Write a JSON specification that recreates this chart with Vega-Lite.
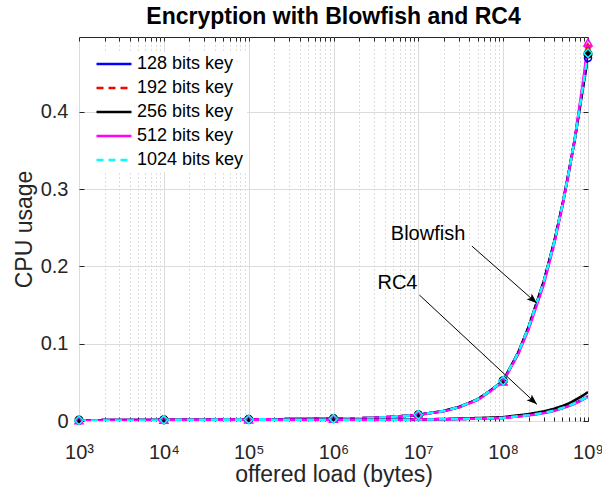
{
  "$schema": "https://vega.github.io/schema/vega-lite/v6.json",
  "width": 509,
  "height": 384,
  "autosize": "none",
  "padding": {"left": 79, "top": 37, "right": 14, "bottom": 71},
  "background": "white",
  "title": {"text": "Encryption with Blowfish and RC4", "font": "Liberation Sans", "fontSize": 23, "fontWeight": "bold", "color": "#000000", "anchor": "middle", "baseline": "alphabetic", "offset": -11},
  "config": {"view": {"stroke": "#262626", "strokeWidth": 1}, "font": "Liberation Sans"},
  "datasets": {
    "curves": [
      {"alg": "Blowfish", "key": "128 bits key", "x": 1e3, "y": 0.001},
      {"alg": "Blowfish", "key": "128 bits key", "x": 1e4, "y": 0.0015},
      {"alg": "Blowfish", "key": "128 bits key", "x": 1e5, "y": 0.002},
      {"alg": "Blowfish", "key": "128 bits key", "x": 1e6, "y": 0.003},
      {"alg": "Blowfish", "key": "128 bits key", "x": 3e6, "y": 0.004},
      {"alg": "Blowfish", "key": "128 bits key", "x": 5e6, "y": 0.0055},
      {"alg": "Blowfish", "key": "128 bits key", "x": 1e7, "y": 0.008},
      {"alg": "Blowfish", "key": "128 bits key", "x": 2e7, "y": 0.013},
      {"alg": "Blowfish", "key": "128 bits key", "x": 3e7, "y": 0.018},
      {"alg": "Blowfish", "key": "128 bits key", "x": 5e7, "y": 0.028},
      {"alg": "Blowfish", "key": "128 bits key", "x": 7e7, "y": 0.039},
      {"alg": "Blowfish", "key": "128 bits key", "x": 1e8, "y": 0.052},
      {"alg": "Blowfish", "key": "128 bits key", "x": 1.5e8, "y": 0.088},
      {"alg": "Blowfish", "key": "128 bits key", "x": 2e8, "y": 0.122},
      {"alg": "Blowfish", "key": "128 bits key", "x": 3e8, "y": 0.18},
      {"alg": "Blowfish", "key": "128 bits key", "x": 4e8, "y": 0.232},
      {"alg": "Blowfish", "key": "128 bits key", "x": 5e8, "y": 0.28},
      {"alg": "Blowfish", "key": "128 bits key", "x": 6e8, "y": 0.325},
      {"alg": "Blowfish", "key": "128 bits key", "x": 7e8, "y": 0.365},
      {"alg": "Blowfish", "key": "128 bits key", "x": 8e8, "y": 0.405},
      {"alg": "Blowfish", "key": "128 bits key", "x": 9e8, "y": 0.44},
      {"alg": "Blowfish", "key": "128 bits key", "x": 1e9, "y": 0.47},
      {"alg": "Blowfish", "key": "192 bits key", "x": 1e3, "y": 0.001},
      {"alg": "Blowfish", "key": "192 bits key", "x": 1e4, "y": 0.0015},
      {"alg": "Blowfish", "key": "192 bits key", "x": 1e5, "y": 0.002},
      {"alg": "Blowfish", "key": "192 bits key", "x": 1e6, "y": 0.003},
      {"alg": "Blowfish", "key": "192 bits key", "x": 3e6, "y": 0.004},
      {"alg": "Blowfish", "key": "192 bits key", "x": 5e6, "y": 0.0055},
      {"alg": "Blowfish", "key": "192 bits key", "x": 1e7, "y": 0.008},
      {"alg": "Blowfish", "key": "192 bits key", "x": 2e7, "y": 0.013},
      {"alg": "Blowfish", "key": "192 bits key", "x": 3e7, "y": 0.018},
      {"alg": "Blowfish", "key": "192 bits key", "x": 5e7, "y": 0.028},
      {"alg": "Blowfish", "key": "192 bits key", "x": 7e7, "y": 0.039},
      {"alg": "Blowfish", "key": "192 bits key", "x": 1e8, "y": 0.052},
      {"alg": "Blowfish", "key": "192 bits key", "x": 1.5e8, "y": 0.088},
      {"alg": "Blowfish", "key": "192 bits key", "x": 2e8, "y": 0.122},
      {"alg": "Blowfish", "key": "192 bits key", "x": 3e8, "y": 0.18},
      {"alg": "Blowfish", "key": "192 bits key", "x": 4e8, "y": 0.232},
      {"alg": "Blowfish", "key": "192 bits key", "x": 5e8, "y": 0.28},
      {"alg": "Blowfish", "key": "192 bits key", "x": 6e8, "y": 0.325},
      {"alg": "Blowfish", "key": "192 bits key", "x": 7e8, "y": 0.366},
      {"alg": "Blowfish", "key": "192 bits key", "x": 8e8, "y": 0.408},
      {"alg": "Blowfish", "key": "192 bits key", "x": 9e8, "y": 0.446},
      {"alg": "Blowfish", "key": "192 bits key", "x": 1e9, "y": 0.484},
      {"alg": "Blowfish", "key": "256 bits key", "x": 1e3, "y": 0.001},
      {"alg": "Blowfish", "key": "256 bits key", "x": 1e4, "y": 0.0015},
      {"alg": "Blowfish", "key": "256 bits key", "x": 1e5, "y": 0.002},
      {"alg": "Blowfish", "key": "256 bits key", "x": 1e6, "y": 0.003},
      {"alg": "Blowfish", "key": "256 bits key", "x": 3e6, "y": 0.004},
      {"alg": "Blowfish", "key": "256 bits key", "x": 5e6, "y": 0.0055},
      {"alg": "Blowfish", "key": "256 bits key", "x": 1e7, "y": 0.008},
      {"alg": "Blowfish", "key": "256 bits key", "x": 2e7, "y": 0.013},
      {"alg": "Blowfish", "key": "256 bits key", "x": 3e7, "y": 0.018},
      {"alg": "Blowfish", "key": "256 bits key", "x": 5e7, "y": 0.028},
      {"alg": "Blowfish", "key": "256 bits key", "x": 7e7, "y": 0.039},
      {"alg": "Blowfish", "key": "256 bits key", "x": 1e8, "y": 0.052},
      {"alg": "Blowfish", "key": "256 bits key", "x": 1.5e8, "y": 0.088},
      {"alg": "Blowfish", "key": "256 bits key", "x": 2e8, "y": 0.122},
      {"alg": "Blowfish", "key": "256 bits key", "x": 3e8, "y": 0.18},
      {"alg": "Blowfish", "key": "256 bits key", "x": 4e8, "y": 0.232},
      {"alg": "Blowfish", "key": "256 bits key", "x": 5e8, "y": 0.28},
      {"alg": "Blowfish", "key": "256 bits key", "x": 6e8, "y": 0.325},
      {"alg": "Blowfish", "key": "256 bits key", "x": 7e8, "y": 0.365},
      {"alg": "Blowfish", "key": "256 bits key", "x": 8e8, "y": 0.406},
      {"alg": "Blowfish", "key": "256 bits key", "x": 9e8, "y": 0.442},
      {"alg": "Blowfish", "key": "256 bits key", "x": 1e9, "y": 0.475},
      {"alg": "Blowfish", "key": "512 bits key", "x": 1e3, "y": 0.001},
      {"alg": "Blowfish", "key": "512 bits key", "x": 1e4, "y": 0.0015},
      {"alg": "Blowfish", "key": "512 bits key", "x": 1e5, "y": 0.002},
      {"alg": "Blowfish", "key": "512 bits key", "x": 1e6, "y": 0.003},
      {"alg": "Blowfish", "key": "512 bits key", "x": 3e6, "y": 0.004},
      {"alg": "Blowfish", "key": "512 bits key", "x": 5e6, "y": 0.0055},
      {"alg": "Blowfish", "key": "512 bits key", "x": 1e7, "y": 0.008},
      {"alg": "Blowfish", "key": "512 bits key", "x": 2e7, "y": 0.0125},
      {"alg": "Blowfish", "key": "512 bits key", "x": 3e7, "y": 0.0175},
      {"alg": "Blowfish", "key": "512 bits key", "x": 5e7, "y": 0.027},
      {"alg": "Blowfish", "key": "512 bits key", "x": 7e7, "y": 0.038},
      {"alg": "Blowfish", "key": "512 bits key", "x": 1e8, "y": 0.051},
      {"alg": "Blowfish", "key": "512 bits key", "x": 1.5e8, "y": 0.086},
      {"alg": "Blowfish", "key": "512 bits key", "x": 2e8, "y": 0.119},
      {"alg": "Blowfish", "key": "512 bits key", "x": 3e8, "y": 0.176},
      {"alg": "Blowfish", "key": "512 bits key", "x": 4e8, "y": 0.229},
      {"alg": "Blowfish", "key": "512 bits key", "x": 5e8, "y": 0.278},
      {"alg": "Blowfish", "key": "512 bits key", "x": 6e8, "y": 0.324},
      {"alg": "Blowfish", "key": "512 bits key", "x": 7e8, "y": 0.366},
      {"alg": "Blowfish", "key": "512 bits key", "x": 8e8, "y": 0.41},
      {"alg": "Blowfish", "key": "512 bits key", "x": 9e8, "y": 0.45},
      {"alg": "Blowfish", "key": "512 bits key", "x": 1e9, "y": 0.49},
      {"alg": "Blowfish", "key": "1024 bits key", "x": 1e3, "y": 0.001},
      {"alg": "Blowfish", "key": "1024 bits key", "x": 1e4, "y": 0.0015},
      {"alg": "Blowfish", "key": "1024 bits key", "x": 1e5, "y": 0.002},
      {"alg": "Blowfish", "key": "1024 bits key", "x": 1e6, "y": 0.003},
      {"alg": "Blowfish", "key": "1024 bits key", "x": 3e6, "y": 0.004},
      {"alg": "Blowfish", "key": "1024 bits key", "x": 5e6, "y": 0.0055},
      {"alg": "Blowfish", "key": "1024 bits key", "x": 1e7, "y": 0.008},
      {"alg": "Blowfish", "key": "1024 bits key", "x": 2e7, "y": 0.013},
      {"alg": "Blowfish", "key": "1024 bits key", "x": 3e7, "y": 0.018},
      {"alg": "Blowfish", "key": "1024 bits key", "x": 5e7, "y": 0.028},
      {"alg": "Blowfish", "key": "1024 bits key", "x": 7e7, "y": 0.039},
      {"alg": "Blowfish", "key": "1024 bits key", "x": 1e8, "y": 0.052},
      {"alg": "Blowfish", "key": "1024 bits key", "x": 1.5e8, "y": 0.088},
      {"alg": "Blowfish", "key": "1024 bits key", "x": 2e8, "y": 0.122},
      {"alg": "Blowfish", "key": "1024 bits key", "x": 3e8, "y": 0.18},
      {"alg": "Blowfish", "key": "1024 bits key", "x": 4e8, "y": 0.232},
      {"alg": "Blowfish", "key": "1024 bits key", "x": 5e8, "y": 0.28},
      {"alg": "Blowfish", "key": "1024 bits key", "x": 6e8, "y": 0.325},
      {"alg": "Blowfish", "key": "1024 bits key", "x": 7e8, "y": 0.365},
      {"alg": "Blowfish", "key": "1024 bits key", "x": 8e8, "y": 0.406},
      {"alg": "Blowfish", "key": "1024 bits key", "x": 9e8, "y": 0.443},
      {"alg": "Blowfish", "key": "1024 bits key", "x": 1e9, "y": 0.476},
      {"alg": "RC4", "key": "128 bits key", "x": 1e3, "y": 0.0005},
      {"alg": "RC4", "key": "128 bits key", "x": 1e4, "y": 0.0008},
      {"alg": "RC4", "key": "128 bits key", "x": 1e5, "y": 0.001},
      {"alg": "RC4", "key": "128 bits key", "x": 1e6, "y": 0.0015},
      {"alg": "RC4", "key": "128 bits key", "x": 1e7, "y": 0.0018},
      {"alg": "RC4", "key": "128 bits key", "x": 3e7, "y": 0.0025},
      {"alg": "RC4", "key": "128 bits key", "x": 1e8, "y": 0.004},
      {"alg": "RC4", "key": "128 bits key", "x": 2e8, "y": 0.0075},
      {"alg": "RC4", "key": "128 bits key", "x": 3e8, "y": 0.0105},
      {"alg": "RC4", "key": "128 bits key", "x": 4e8, "y": 0.0135},
      {"alg": "RC4", "key": "128 bits key", "x": 5e8, "y": 0.017},
      {"alg": "RC4", "key": "128 bits key", "x": 6e8, "y": 0.0198},
      {"alg": "RC4", "key": "128 bits key", "x": 7e8, "y": 0.023},
      {"alg": "RC4", "key": "128 bits key", "x": 8e8, "y": 0.026},
      {"alg": "RC4", "key": "128 bits key", "x": 9e8, "y": 0.029},
      {"alg": "RC4", "key": "128 bits key", "x": 1e9, "y": 0.032},
      {"alg": "RC4", "key": "192 bits key", "x": 1e3, "y": 0.0005},
      {"alg": "RC4", "key": "192 bits key", "x": 1e4, "y": 0.0008},
      {"alg": "RC4", "key": "192 bits key", "x": 1e5, "y": 0.001},
      {"alg": "RC4", "key": "192 bits key", "x": 1e6, "y": 0.0015},
      {"alg": "RC4", "key": "192 bits key", "x": 1e7, "y": 0.0018},
      {"alg": "RC4", "key": "192 bits key", "x": 3e7, "y": 0.0025},
      {"alg": "RC4", "key": "192 bits key", "x": 1e8, "y": 0.004},
      {"alg": "RC4", "key": "192 bits key", "x": 2e8, "y": 0.0075},
      {"alg": "RC4", "key": "192 bits key", "x": 3e8, "y": 0.0105},
      {"alg": "RC4", "key": "192 bits key", "x": 4e8, "y": 0.0135},
      {"alg": "RC4", "key": "192 bits key", "x": 5e8, "y": 0.017},
      {"alg": "RC4", "key": "192 bits key", "x": 6e8, "y": 0.0198},
      {"alg": "RC4", "key": "192 bits key", "x": 7e8, "y": 0.023},
      {"alg": "RC4", "key": "192 bits key", "x": 8e8, "y": 0.026},
      {"alg": "RC4", "key": "192 bits key", "x": 9e8, "y": 0.029},
      {"alg": "RC4", "key": "192 bits key", "x": 1e9, "y": 0.032},
      {"alg": "RC4", "key": "256 bits key", "x": 1e3, "y": 0.0005},
      {"alg": "RC4", "key": "256 bits key", "x": 1e4, "y": 0.0008},
      {"alg": "RC4", "key": "256 bits key", "x": 1e5, "y": 0.001},
      {"alg": "RC4", "key": "256 bits key", "x": 1e6, "y": 0.0015},
      {"alg": "RC4", "key": "256 bits key", "x": 1e7, "y": 0.002},
      {"alg": "RC4", "key": "256 bits key", "x": 3e7, "y": 0.003},
      {"alg": "RC4", "key": "256 bits key", "x": 1e8, "y": 0.005},
      {"alg": "RC4", "key": "256 bits key", "x": 2e8, "y": 0.009},
      {"alg": "RC4", "key": "256 bits key", "x": 3e8, "y": 0.0125},
      {"alg": "RC4", "key": "256 bits key", "x": 4e8, "y": 0.016},
      {"alg": "RC4", "key": "256 bits key", "x": 5e8, "y": 0.0195},
      {"alg": "RC4", "key": "256 bits key", "x": 6e8, "y": 0.023},
      {"alg": "RC4", "key": "256 bits key", "x": 7e8, "y": 0.027},
      {"alg": "RC4", "key": "256 bits key", "x": 8e8, "y": 0.0305},
      {"alg": "RC4", "key": "256 bits key", "x": 9e8, "y": 0.034},
      {"alg": "RC4", "key": "256 bits key", "x": 1e9, "y": 0.0375},
      {"alg": "RC4", "key": "512 bits key", "x": 1e3, "y": 0.0005},
      {"alg": "RC4", "key": "512 bits key", "x": 1e4, "y": 0.0008},
      {"alg": "RC4", "key": "512 bits key", "x": 1e5, "y": 0.001},
      {"alg": "RC4", "key": "512 bits key", "x": 1e6, "y": 0.0015},
      {"alg": "RC4", "key": "512 bits key", "x": 1e7, "y": 0.0018},
      {"alg": "RC4", "key": "512 bits key", "x": 3e7, "y": 0.0025},
      {"alg": "RC4", "key": "512 bits key", "x": 1e8, "y": 0.004},
      {"alg": "RC4", "key": "512 bits key", "x": 2e8, "y": 0.0072},
      {"alg": "RC4", "key": "512 bits key", "x": 3e8, "y": 0.0102},
      {"alg": "RC4", "key": "512 bits key", "x": 4e8, "y": 0.0132},
      {"alg": "RC4", "key": "512 bits key", "x": 5e8, "y": 0.0165},
      {"alg": "RC4", "key": "512 bits key", "x": 6e8, "y": 0.0195},
      {"alg": "RC4", "key": "512 bits key", "x": 7e8, "y": 0.0225},
      {"alg": "RC4", "key": "512 bits key", "x": 8e8, "y": 0.0255},
      {"alg": "RC4", "key": "512 bits key", "x": 9e8, "y": 0.0285},
      {"alg": "RC4", "key": "512 bits key", "x": 1e9, "y": 0.0315},
      {"alg": "RC4", "key": "1024 bits key", "x": 1e3, "y": 0.0005},
      {"alg": "RC4", "key": "1024 bits key", "x": 1e4, "y": 0.0008},
      {"alg": "RC4", "key": "1024 bits key", "x": 1e5, "y": 0.001},
      {"alg": "RC4", "key": "1024 bits key", "x": 1e6, "y": 0.0015},
      {"alg": "RC4", "key": "1024 bits key", "x": 1e7, "y": 0.0018},
      {"alg": "RC4", "key": "1024 bits key", "x": 3e7, "y": 0.0025},
      {"alg": "RC4", "key": "1024 bits key", "x": 1e8, "y": 0.004},
      {"alg": "RC4", "key": "1024 bits key", "x": 2e8, "y": 0.0075},
      {"alg": "RC4", "key": "1024 bits key", "x": 3e8, "y": 0.0105},
      {"alg": "RC4", "key": "1024 bits key", "x": 4e8, "y": 0.0135},
      {"alg": "RC4", "key": "1024 bits key", "x": 5e8, "y": 0.017},
      {"alg": "RC4", "key": "1024 bits key", "x": 6e8, "y": 0.0198},
      {"alg": "RC4", "key": "1024 bits key", "x": 7e8, "y": 0.023},
      {"alg": "RC4", "key": "1024 bits key", "x": 8e8, "y": 0.026},
      {"alg": "RC4", "key": "1024 bits key", "x": 9e8, "y": 0.029},
      {"alg": "RC4", "key": "1024 bits key", "x": 1e9, "y": 0.032}
    ],
    "markers": [
      {"series": "b128", "x": 1e3, "y": 0.001},
      {"series": "b128", "x": 1e4, "y": 0.0015},
      {"series": "b128", "x": 1e5, "y": 0.002},
      {"series": "b128", "x": 1e6, "y": 0.003},
      {"series": "b128", "x": 1e7, "y": 0.008},
      {"series": "b128", "x": 1e8, "y": 0.052},
      {"series": "b128", "x": 1e9, "y": 0.47},
      {"series": "b192", "x": 1e3, "y": 0.001},
      {"series": "b192", "x": 1e4, "y": 0.0015},
      {"series": "b192", "x": 1e5, "y": 0.002},
      {"series": "b192", "x": 1e6, "y": 0.003},
      {"series": "b192", "x": 1e7, "y": 0.008},
      {"series": "b192", "x": 1e8, "y": 0.052},
      {"series": "b192", "x": 1e9, "y": 0.484},
      {"series": "b256", "x": 1e3, "y": 0.001},
      {"series": "b256", "x": 1e4, "y": 0.0015},
      {"series": "b256", "x": 1e5, "y": 0.002},
      {"series": "b256", "x": 1e6, "y": 0.003},
      {"series": "b256", "x": 1e7, "y": 0.008},
      {"series": "b256", "x": 1e8, "y": 0.052},
      {"series": "b256", "x": 1e9, "y": 0.475},
      {"series": "b512", "x": 1e3, "y": 0.001},
      {"series": "b512", "x": 1e4, "y": 0.0015},
      {"series": "b512", "x": 1e5, "y": 0.002},
      {"series": "b512", "x": 1e6, "y": 0.003},
      {"series": "b512", "x": 1e7, "y": 0.008},
      {"series": "b512", "x": 1e8, "y": 0.051},
      {"series": "b512", "x": 1e9, "y": 0.49},
      {"series": "b1024", "x": 1e3, "y": 0.001},
      {"series": "b1024", "x": 1e4, "y": 0.0015},
      {"series": "b1024", "x": 1e5, "y": 0.002},
      {"series": "b1024", "x": 1e6, "y": 0.003},
      {"series": "b1024", "x": 1e7, "y": 0.008},
      {"series": "b1024", "x": 1e8, "y": 0.052},
      {"series": "b1024", "x": 1e9, "y": 0.476}
    ],
    "arrows": [
      {"label": "Blowfish", "x": 4.28e7, "y": 0.2264, "x2": 2.5e8, "y2": 0.1523},
      {"label": "RC4", "x": 1.03e7, "y": 0.163, "x2": 2.5e8, "y2": 0.0216}
    ],
    "labels": [
      {"label": "Blowfish", "x": 4.74e6, "y": 0.242},
      {"label": "RC4", "x": 3.3e6, "y": 0.178}
    ]
  },
  "resolve": {"axis": {"x": "independent", "y": "independent"}},
  "layer": [
    {
      "data": {"name": "curves"},
      "mark": {"type": "line", "strokeWidth": 2.5, "clip": true},
      "encoding": {
        "x": {
          "field": "x", "type": "quantitative",
          "scale": {"type": "log", "domain": [1000, 1000000000], "nice": false},
          "axis": {
            "orient": "bottom",
            "values": [1e3,2e3,3e3,4e3,5e3,6e3,7e3,8e3,9e3,1e4,2e4,3e4,4e4,5e4,6e4,7e4,8e4,9e4,1e5,2e5,3e5,4e5,5e5,6e5,7e5,8e5,9e5,1e6,2e6,3e6,4e6,5e6,6e6,7e6,8e6,9e6,1e7,2e7,3e7,4e7,5e7,6e7,7e7,8e7,9e7,1e8,2e8,3e8,4e8,5e8,6e8,7e8,8e8,9e8,1e9],
            "labelExpr": "abs(log(datum.value)/LN10 - round(log(datum.value)/LN10)) < 0.001 ? '10' + ['⁰','¹','²','³','⁴','⁵','⁶','⁷','⁸','⁹'][round(log(datum.value)/LN10)] : ''",
            "labelFont": "Liberation Sans", "labelFontSize": 20, "labelColor": "#262626",
            "labelPadding": 25, "labelFlush": false, "labelOverlap": false, "labelBound": false,
            "tickSize": -4, "tickColor": "#262626", "domain": false,
            "grid": true,
            "gridColor": {"condition": {"test": "abs(log(datum.value)/LN10 - round(log(datum.value)/LN10)) < 0.001", "value": "#dcdcdc"}, "value": "#b8b8b8"},
            "gridDash": {"condition": {"test": "abs(log(datum.value)/LN10 - round(log(datum.value)/LN10)) < 0.001", "value": []}, "value": [1, 3]},
            "title": "offered load (bytes)", "titleFont": "Liberation Sans", "titleFontSize": 23, "titleFontWeight": "normal", "titleColor": "#262626", "titlePadding": 1
          }
        },
        "y": {
          "field": "y", "type": "quantitative",
          "scale": {"domain": [0, 0.497], "nice": false},
          "axis": {
            "orient": "left",
            "values": [0, 0.1, 0.2, 0.3, 0.4],
            "labelExpr": "datum.value == 0 ? '0' : format(datum.value, '.1f')",
            "labelFont": "Liberation Sans", "labelFontSize": 20, "labelColor": "#262626",
            "labelPadding": 16, "labelFlush": false, "labelOverlap": false, "labelBound": false,
            "tickSize": -5, "tickColor": "#262626", "domain": false,
            "grid": true, "gridColor": "#dcdcdc",
            "title": "CPU usage", "titleFont": "Liberation Sans", "titleFontSize": 23, "titleFontWeight": "normal", "titleColor": "#262626", "titlePadding": 4
          }
        },
        "color": {
          "field": "key", "type": "nominal",
          "scale": {"domain": ["128 bits key", "192 bits key", "256 bits key", "512 bits key", "1024 bits key"], "range": ["#0000ff", "#ff0000", "#000000", "#ff00ff", "#00ffff"]},
          "legend": {"title": null, "orient": "none", "legendX": 23, "legendY": 15, "symbolType": "M-2.8,0L2.8,0", "symbolSize": 156, "symbolStrokeWidth": 2.5, "labelFont": "Liberation Sans", "labelFontSize": 18, "labelColor": "#000000", "labelOffset": 14, "rowPadding": 6, "fillColor": "white", "padding": 3}
        },
        "strokeDash": {
          "field": "key", "type": "nominal",
          "scale": {"domain": ["128 bits key", "192 bits key", "256 bits key", "512 bits key", "1024 bits key"], "range": [[1, 0], [7, 5], [1, 0], [1, 0], [7, 5]]},
          "legend": {"title": null, "orient": "none", "legendX": 23, "legendY": 15, "symbolType": "M-2.8,0L2.8,0", "symbolSize": 156, "symbolStrokeWidth": 2.5, "labelFont": "Liberation Sans", "labelFontSize": 18, "labelColor": "#000000", "labelOffset": 14, "rowPadding": 6, "fillColor": "white", "padding": 3}
        },
        "detail": {"field": "alg", "type": "nominal"}
      }
    },
    {
      "data": {"name": "markers"},
      "mark": {"type": "point", "strokeWidth": 1.5, "clip": false, "opacity": 1},
      "encoding": {
        "x": {
          "field": "x", "type": "quantitative",
          "axis": {
            "orient": "top",
            "values": [1e3,2e3,3e3,4e3,5e3,6e3,7e3,8e3,9e3,1e4,2e4,3e4,4e4,5e4,6e4,7e4,8e4,9e4,1e5,2e5,3e5,4e5,5e5,6e5,7e5,8e5,9e5,1e6,2e6,3e6,4e6,5e6,6e6,7e6,8e6,9e6,1e7,2e7,3e7,4e7,5e7,6e7,7e7,8e7,9e7,1e8,2e8,3e8,4e8,5e8,6e8,7e8,8e8,9e8,1e9],
            "labels": false, "grid": false, "domain": false, "tickSize": -4, "tickColor": "#262626", "title": null
          }
        },
        "y": {
          "field": "y", "type": "quantitative",
          "axis": {"orient": "right", "values": [0, 0.1, 0.2, 0.3, 0.4], "labels": false, "grid": false, "domain": false, "tickSize": -5, "tickColor": "#262626", "title": null}
        },
        "shape": {
          "field": "series", "type": "nominal",
          "scale": {"domain": ["b128", "b192", "b256", "b512", "b1024"], "range": ["circle", "M-1,0L1,0M0,-1L0,1M-0.7,-0.7L0.7,0.7M-0.7,0.7L0.7,-0.7", "circle", "triangle-up", "diamond"]},
          "legend": null
        },
        "stroke": {
          "field": "series", "type": "nominal",
          "scale": {"domain": ["b128", "b192", "b256", "b512", "b1024"], "range": ["#0000ff", "#ff0000", "#000000", "#ff00ff", "#00ffff"]},
          "legend": null
        },
        "fill": {
          "field": "series", "type": "nominal",
          "scale": {"domain": ["b128", "b192", "b256", "b512", "b1024"], "range": ["transparent", "transparent", "#000000", "transparent", "transparent"]},
          "legend": null
        },
        "size": {
          "field": "series", "type": "nominal",
          "scale": {"domain": ["b128", "b192", "b256", "b512", "b1024"], "range": [50, 70, 14, 55, 50]},
          "legend": null
        }
      }
    },
    {
      "data": {"name": "arrows"},
      "mark": {"type": "rule", "color": "#000000", "strokeWidth": 1},
      "encoding": {
        "x": {"field": "x", "type": "quantitative", "axis": null},
        "y": {"field": "y", "type": "quantitative", "axis": null},
        "x2": {"field": "x2"},
        "y2": {"field": "y2"}
      }
    },
    {
      "data": {"name": "arrows"},
      "mark": {"type": "point", "shape": "M0,0L-0.55,1.5L0,1.15L0.55,1.5Z", "angle": 132, "size": 196, "filled": true, "color": "#000000", "opacity": 1},
      "encoding": {
        "x": {"field": "x2", "type": "quantitative", "axis": null},
        "y": {"field": "y2", "type": "quantitative", "axis": null}
      }
    },
    {
      "data": {"name": "labels"},
      "mark": {"type": "text", "align": "left", "baseline": "middle", "font": "Liberation Sans", "fontSize": 20, "color": "#000000"},
      "encoding": {
        "x": {"field": "x", "type": "quantitative", "axis": null},
        "y": {"field": "y", "type": "quantitative", "axis": null},
        "text": {"field": "label"}
      }
    }
  ]
}
